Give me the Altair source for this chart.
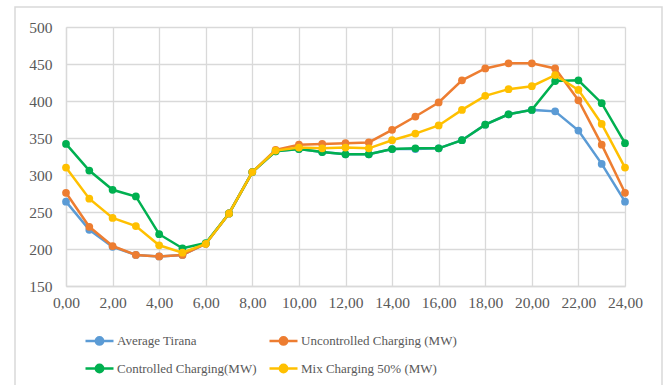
import altair as alt
import pandas as pd

hours = list(range(25))
series = ["Average Tirana", "Uncontrolled Charging (MW)",
          "Controlled Charging(MW)", "Mix Charging 50% (MW)"]
colors = ["#5B9BD5", "#ED7D31", "#00B050", "#FFC000"]

average_tirana = [264, 226, 203, 192, 190, 192, 207, 248, 304, 332, 335, 331, 328,
                  328, 335, 335, 336, 347, 368, 382, 388, 386, 360, 315, 264]
uncontrolled = [276, 230, 204, 192, 190, 192, 207, 248, 304, 334, 341, 342, 343,
                344, 361, 379, 398, 428, 444, 451, 451, 444, 401, 341, 276]
controlled = [342, 306, 280, 271, 220, 201, 208, 248, 304, 332, 335, 331, 328,
              328, 335, 336, 336, 347, 368, 382, 388, 427, 428, 397, 343]
mix = [310, 268, 242, 231, 205, 195, 207, 248, 304, 333, 337, 336, 337,
       336, 347, 356, 367, 388, 407, 416, 420, 435, 415, 369, 310]

values = [average_tirana, uncontrolled, controlled, mix]
rows = []
for s, vals in zip(series, values):
    for h, v in zip(hours, vals):
        rows.append({"hour": h, "value": v, "series": s})
df = pd.DataFrame(rows)

# legend is laid out column by column: order entries so rows read like the original
legend_order = [series[0], series[2], series[1], series[3]]
legend_colors = [colors[0], colors[2], colors[1], colors[3]]

FONT = "Liberation Serif"
TXT = "#595959"
GRID = "#d9d9d9"

legend_path = ("M-1,0L1,0M0.26,0A0.26,0.26,0,1,1,-0.26,0"
               "A0.26,0.26,0,1,1,0.26,0Z")

base = alt.Chart(df).mark_line(
    strokeWidth=2.5,
    point=alt.OverlayMarkDef(filled=True, size=60, opacity=1),
).encode(
    x=alt.X("hour:Q",
            scale=alt.Scale(domain=[0, 24], nice=False),
            axis=alt.Axis(values=list(range(0, 25, 2)), title=None,
                          labelExpr="replace(format(datum.value, '.2f'), '.', ',')",
                          labelPadding=9, labelOverlap=False, labelFlush=False)),
    y=alt.Y("value:Q",
            scale=alt.Scale(domain=[150, 500], nice=False, zero=False),
            axis=alt.Axis(values=list(range(150, 501, 50)), title=None,
                          labelPadding=14, labelOverlap=False, labelFlush=False)),
    color=alt.Color("series:N",
                    scale=alt.Scale(domain=legend_order, range=legend_colors),
                    legend=alt.Legend(
                        title=None, orient="none", legendX=18, legendY=298,
                        columns=2, columnPadding=7, rowPadding=3, padding=0,
                        symbolType=legend_path, symbolSize=784,
                        symbolStrokeWidth=2.5, labelOffset=2,
                        labelFont=FONT, labelFontSize=13, labelColor=TXT,
                        labelLimit=300)),
)

layers = [base.transform_filter(alt.datum.series == s) for s in series]

border = alt.Chart(alt.Data(values=[{}])).mark_rect(
    fill=None, stroke=GRID, strokeWidth=1.5, clip=False
).encode(
    x=alt.value(-51), x2=alt.value(596), y=alt.value(-20), y2=alt.value(380)
)

chart = alt.layer(border, *layers).properties(
    width=559, height=259,
    background="white",
    autosize=alt.AutoSizeParams(type="none"),
    padding={"left": 66, "top": 27, "right": 40, "bottom": 99},
).configure_view(
    stroke=None
).configure_axis(
    gridColor=GRID, gridWidth=1.3, domainColor=GRID, domainWidth=1.3,
    ticks=False, labelFont=FONT, labelFontSize=15.5, labelColor=TXT,
)

chart.save("out.html", embed_options={"renderer": "svg", "actions": False})
